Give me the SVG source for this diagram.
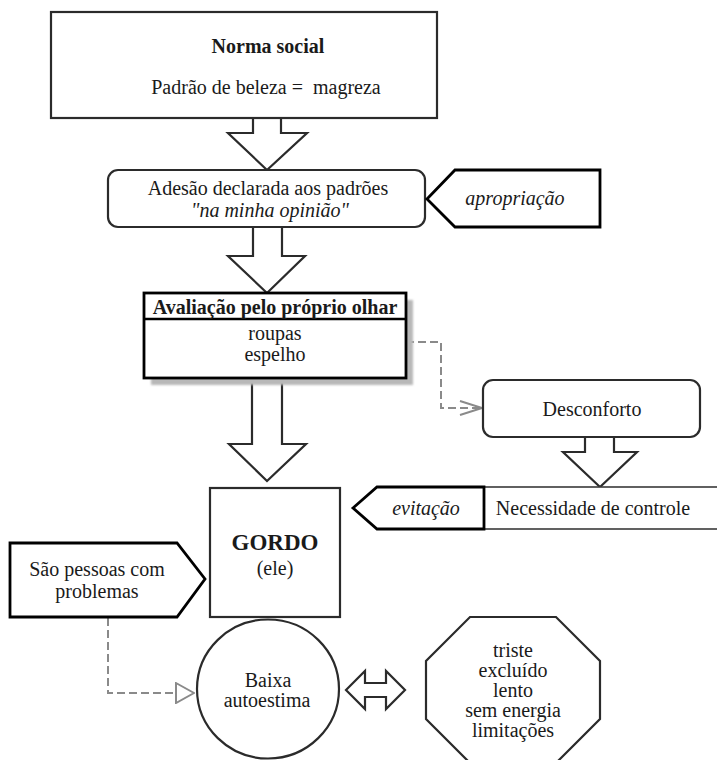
<svg xmlns="http://www.w3.org/2000/svg" width="717" height="760" viewBox="0 0 717 760">
  <style>
    text { font-family: "Liberation Serif", "Times New Roman", serif; font-size: 20px; fill: #1a1a1a; text-anchor: middle; }
    .b { font-weight: bold; }
    .i { font-style: italic; }
    .box { fill: #ffffff; stroke: #2b2b2b; stroke-width: 2.2; }
    .heavy { fill: #ffffff; stroke: #000000; stroke-width: 2.8; }
    .blk { fill: #ffffff; stroke: #2b2b2b; stroke-width: 2.2; stroke-linejoin: miter; }
    .dash { fill: none; stroke: #8a8a8a; stroke-width: 2; stroke-dasharray: 8 4; }
  </style>
  <defs>
    <filter id="soft" x="-10%" y="-10%" width="120%" height="120%">
      <feGaussianBlur stdDeviation="1"/>
    </filter>
    <marker id="chevron" viewBox="0 0 24 16" refX="23" refY="8" markerWidth="24" markerHeight="16" markerUnits="userSpaceOnUse" orient="auto">
      <path d="M1,1 L23,8 L1,15" fill="none" stroke="#8a8a8a" stroke-width="2"/>
    </marker>
    <marker id="hollow" viewBox="0 0 20 22" refX="19" refY="11" markerWidth="20" markerHeight="22" markerUnits="userSpaceOnUse" orient="auto">
      <path d="M1,1 L19,11 L1,21 Z" fill="#ffffff" stroke="#8a8a8a" stroke-width="2"/>
    </marker>
  </defs>

  <rect width="717" height="760" fill="#ffffff"/>

  <!-- connectors: block arrows and dashed links -->
  <g id="connectors">
    <polygon class="blk" points="253,118 281,118 281,133 307,133 267,170 228,133 253,133"/>
    <polygon class="blk" points="253,227 282,227 282,256 305,256 267,293 228,256 253,256"/>
    <polygon class="blk" points="252,378 282,378 282,444 306,444 267,481 229,444 252,444"/>
    <polygon class="blk" points="585,437 614,437 614,452 637,452 600,487 563,452 585,452"/>
    <polygon class="blk" points="346,690 365,671 365,683 386,683 386,671 405,690 386,709 386,697 365,697 365,709"/>
    <path class="dash" d="M406,342 H441 V408 H482" marker-end="url(#chevron)"/>
    <path class="dash" d="M108,618 V693 H194" marker-end="url(#hollow)"/>
  </g>

  <g id="norma-social">
    <rect class="box" x="51" y="12" width="386" height="106"/>
    <text class="b" x="268" y="53">Norma social</text>
    <text x="266" y="94" xml:space="preserve">Padrão de beleza =  magreza</text>
  </g>

  <g id="adesao">
    <rect class="box" x="108" y="170" width="317" height="57" rx="10" ry="10"/>
    <text x="268" y="195">Adesão declarada aos padrões</text>
    <text class="i" x="270" y="217">"na minha opinião"</text>
  </g>

  <g id="apropriacao">
    <polygon class="heavy" points="427,199 455,170 600,170 600,227 455,227"/>
    <text class="i" x="515" y="205">apropriação</text>
  </g>

  <g id="avaliacao">
    <rect x="151" y="300" width="262" height="85" fill="#b8b8b8" filter="url(#soft)"/>
    <rect class="heavy" x="144" y="293" width="262" height="85"/>
    <line x1="144" y1="319" x2="406" y2="319" stroke="#000000" stroke-width="2.5"/>
    <text class="b" x="275" y="314">Avaliação pelo próprio olhar</text>
    <text x="275" y="340">roupas</text>
    <text x="275" y="361">espelho</text>
  </g>

  <g id="desconforto">
    <rect class="box" x="483" y="380" width="217" height="57" rx="10" ry="10"/>
    <text x="592" y="416">Desconforto</text>
  </g>

  <g id="necessidade-controle">
    <rect x="484" y="487" width="240" height="42" fill="#ffffff" stroke="#3a3a3a" stroke-width="1.6"/>
    <text x="593" y="515">Necessidade de controle</text>
  </g>

  <g id="evitacao">
    <polygon class="heavy" points="353,508 377,487 484,487 484,529 377,529"/>
    <text class="i" x="426" y="515">evitação</text>
  </g>

  <g id="gordo">
    <rect class="box" x="210" y="488" width="130" height="129"/>
    <text class="b" x="275" y="550" style="font-size:23px">GORDO</text>
    <text x="275" y="575">(ele)</text>
  </g>

  <g id="pessoas-problemas">
    <polygon class="heavy" points="10,543 177,543 205,579 177,617 10,617"/>
    <text x="97" y="576">São pessoas com</text>
    <text x="97" y="598">problemas</text>
  </g>

  <g id="baixa-autoestima">
    <ellipse class="box" cx="268" cy="689" rx="71" ry="69.5"/>
    <text x="268" y="687">Baixa</text>
    <text x="267" y="707">autoestima</text>
  </g>

  <g id="sintomas">
    <polygon class="box" points="470,617 556,617 600,661 600,719 556,763 470,763 426,719 426,661"/>
    <text x="513" y="657">triste</text>
    <text x="513" y="677">excluído</text>
    <text x="513" y="697">lento</text>
    <text x="513" y="717">sem energia</text>
    <text x="513" y="737">limitações</text>
  </g>
</svg>
